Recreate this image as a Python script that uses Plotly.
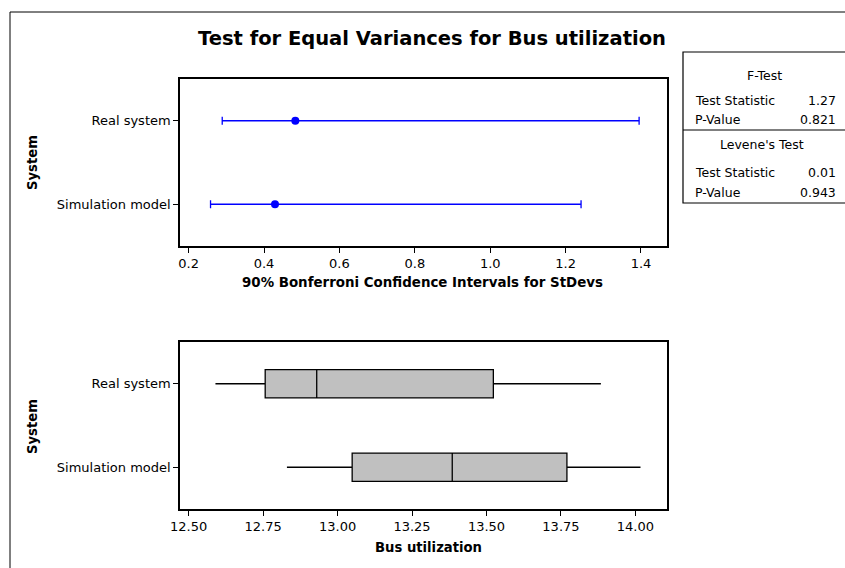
import plotly.graph_objects as go

W, H = 845, 568

# ---- data ----
systems = ["Real system", "Simulation model"]
ci_lower = [0.289, 0.258]
ci_point = [0.483, 0.429]
ci_upper = [1.395, 1.241]

box_low = [12.59, 12.83]
box_q1 = [12.757, 13.049]
box_median = [12.93, 13.385]
box_q3 = [13.523, 13.77]
box_high = [13.884, 14.017]

ftest_labels = ["Test Statistic", "P-Value"]
ftest_values = ["1.27", "0.821"]
levene_labels = ["Test Statistic", "P-Value"]
levene_values = ["0.01", "0.943"]

title_text = "Test for Equal Variances for Bus utilization"
top_xtitle = "90% Bonferroni Confidence Intervals for StDevs"
bottom_xtitle = "Bus utilization"
ytitle = "System"

FONT = "DejaVu Sans"
BLUE = "#0000FF"


def px(x):
    return x / W


def py(y):
    return 1 - y / H


fig = go.Figure()

# CI plot
fig.add_trace(go.Scatter(
    x=ci_point, y=systems, mode="markers",
    marker=dict(color=BLUE, size=8, symbol="circle"),
    error_x=dict(type="data", symmetric=False,
                 array=[u - p for u, p in zip(ci_upper, ci_point)],
                 arrayminus=[p - l for p, l in zip(ci_point, ci_lower)],
                 color=BLUE, thickness=1.3, width=4),
    xaxis="x", yaxis="y", showlegend=False, hoverinfo="skip"))

# Boxplots
for i, s in enumerate(systems):
    fig.add_trace(go.Box(
        y=[s], q1=[box_q1[i]], median=[box_median[i]], q3=[box_q3[i]],
        lowerfence=[box_low[i]], upperfence=[box_high[i]],
        orientation="h", width=0.34, whiskerwidth=0,
        fillcolor="#C0C0C0", line=dict(color="black", width=1.3),
        boxpoints=False, xaxis="x2", yaxis="y2", showlegend=False,
        hoverinfo="skip"))

cat_order = ["Simulation model", "Real system"]
axis_common = dict(showline=True, linecolor="black", linewidth=1.5, mirror=True,
                   ticks="outside", ticklen=5, tickcolor="black", tickwidth=1,
                   showgrid=False, zeroline=False, automargin=False,
                   tickfont=dict(family=FONT, size=13, color="black"))

fig.update_layout(
    template="none",
    width=W, height=H,
    margin=dict(l=0, r=0, t=0, b=0, pad=0),
    paper_bgcolor="white", plot_bgcolor="white",
    xaxis=dict(domain=[px(180), px(667)], range=[0.177, 1.469], dtick=0.2,
               tick0=0.2, tickformat=".1f", anchor="y", **axis_common),
    yaxis=dict(domain=[py(246), py(79)], type="category",
               categoryorder="array", categoryarray=cat_order,
               range=[-0.5, 1.5], anchor="x", **axis_common),
    xaxis2=dict(domain=[px(180), px(667)], range=[12.471, 14.106], dtick=0.25,
                tick0=12.5, tickformat=".2f", anchor="y2", **axis_common),
    yaxis2=dict(domain=[py(509), py(342)], type="category",
                categoryorder="array", categoryarray=cat_order,
                range=[-0.5, 1.5], anchor="x2", **axis_common),
)

annotations = []


def ann(text, x, y, size=12.5, bold=False, xanchor="center", textangle=0):
    t = f"<b>{text}</b>" if bold else text
    annotations.append(dict(text=t, x=px(x), y=py(y), xref="paper", yref="paper",
                            xanchor=xanchor, yanchor="middle", showarrow=False,
                            textangle=textangle,
                            font=dict(family=FONT, size=size, color="black")))


ann(title_text, 432, 38, size=19.5, bold=True)
ann(top_xtitle, 422, 283, size=13.4, bold=True)
ann(bottom_xtitle, 428, 547, size=13.2, bold=True)
ann(ytitle, 32, 163, size=13.2, bold=True, textangle=-90)
ann(ytitle, 32, 427, size=13.2, bold=True, textangle=-90)

# stats table
ann("F-Test", 764, 75)
for i, (lab, val) in enumerate(zip(ftest_labels, ftest_values)):
    ann(lab, 693, 100 + 19.5 * i, xanchor="left")
    ann(val, 838, 100 + 19.5 * i, xanchor="right")
ann("Levene's Test", 762, 145)
for i, (lab, val) in enumerate(zip(levene_labels, levene_values)):
    ann(lab, 693, 172 + 20 * i, xanchor="left")
    ann(val, 838, 172 + 20 * i, xanchor="right")

fig.update_layout(annotations=annotations)

shapes = [
    # outer frame
    dict(type="rect", xref="paper", yref="paper", x0=px(10), x1=px(W + 10),
         y0=py(H + 10), y1=py(12), line=dict(color="black", width=1)),
    # table
    dict(type="rect", xref="paper", yref="paper", x0=px(683), x1=px(W + 10),
         y0=py(203), y1=py(52), line=dict(color="black", width=1.2)),
    dict(type="line", xref="paper", yref="paper", x0=px(683), x1=px(W + 10),
         y0=py(130), y1=py(130), line=dict(color="black", width=1.2)),
]
fig.update_layout(shapes=shapes)

fig.write_html("out.html")
